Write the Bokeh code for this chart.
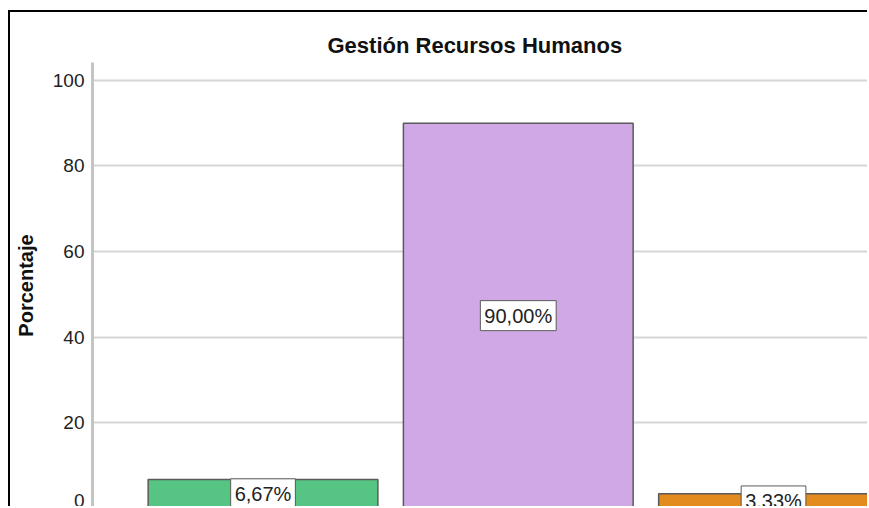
from bokeh.plotting import figure
from bokeh.models import ColumnDataSource, Label, FixedTicker, Range1d
from bokeh.embed import file_html
from bokeh.resources import INLINE

# ---- data ----
categories = ["Bajo", "Medio", "Alto"]
porcentajes = [6.67, 90.00, 3.33]
etiquetas = ["6,67%", "90,00%", "3,33%"]
colores = ["#56c583", "#d1a8e6", "#e38b1e"]
yticks = [0, 20, 40, 60, 80, 100]
titulo = "Gestión Recursos Humanos"
eje_y = "Porcentaje"

FONT = "Liberation Sans"

xs = list(range(len(categories)))
src = ColumnDataSource(dict(x=xs, top=porcentajes, color=colores, cat=categories))

p = figure(
    width=859, height=496,
    x_range=Range1d(-0.668, 2.376), y_range=Range1d(-0.1, 104.2),
    output_backend="svg", toolbar_location=None,
    x_axis_location=None,
    min_border_left=82, min_border_right=0, min_border_bottom=0, min_border_top=50,
    title=titulo,
    margin=(10, 0, 0, 8),
)
p.styles = {"border-left": "2px solid black", "border-top": "2px solid black",
            "border-right": "none", "border-bottom": "none"}
p.outline_line_color = None
p.background_fill_color = "white"
p.border_fill_color = "white"

p.title.align = "left"
p.title.offset = 235
p.title.text_font = FONT
p.title.text_font_size = "22px"
p.title.text_font_style = "bold"
p.title.text_color = "#111111"

ax = p.yaxis[0]
ax.ticker = FixedTicker(ticks=yticks)
ax.axis_label = eje_y
ax.axis_label_text_font = FONT
ax.axis_label_text_font_size = "20px"
ax.axis_label_text_font_style = "bold"
ax.axis_label_text_color = "#111111"
ax.axis_label_standoff = 13
ax.major_label_text_font = FONT
ax.major_label_text_font_size = "19px"
ax.major_label_text_color = "#222222"
ax.major_label_standoff = 8
ax.major_tick_in = 0
ax.major_tick_out = 0
ax.minor_tick_in = 0
ax.minor_tick_out = 0
ax.axis_line_color = "#c4c4c4"
ax.axis_line_width = 3

p.xgrid.visible = False
p.ygrid.grid_line_color = "#d6d6d6"
p.ygrid.grid_line_width = 2

p.vbar(x="x", top="top", bottom=0, width=0.9, fill_color="color",
       line_color="#5a5a5a", line_width=1.5, source=src)

for xi, v, t in zip(xs, porcentajes, etiquetas):
    p.add_layout(Label(x=xi, y=v / 2, text=t, text_align="center", text_baseline="middle",
                       text_font=FONT, text_font_size="20px", text_color="#222222",
                       background_fill_color="white", border_line_color="#5a5a5a",
                       border_line_width=1, padding=4))

open("out.html", "w").write(file_html(p, INLINE))
